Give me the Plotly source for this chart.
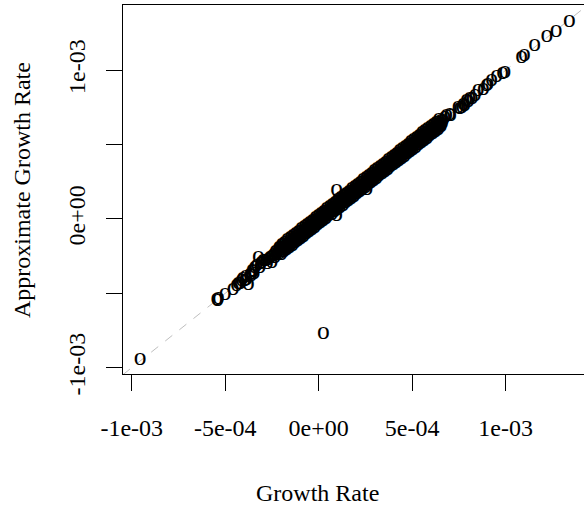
import plotly.graph_objects as go

# ---- data (growth rate vs approximate growth rate) ----
# sparse points, lower-left tail
tail_low_x = [-9.55e-4, -5.45e-4, -5.40e-4, -5.36e-4, -5.01e-4, -4.57e-4, -4.39e-4, -4.30e-4,
              -4.12e-4, -3.95e-4, -3.85e-4, -3.76e-4, -3.67e-4, -3.50e-4, -3.41e-4, -3.30e-4,
              -3.23e-4, -3.05e-4, -2.96e-4, -2.85e-4, -2.70e-4, -2.51e-4, -2.40e-4, -2.30e-4,
              -2.25e-4, -4.20e-4, -4.05e-4, -3.90e-4, -3.60e-4, -3.55e-4, -3.45e-4, -3.15e-4,
              -3.10e-4, -2.75e-4, -2.60e-4, -2.50e-4, -2.35e-4]
tail_low_y = [-9.37e-4, -5.33e-4, -5.40e-4, -5.30e-4, -5.04e-4, -4.66e-4, -4.44e-4, -4.25e-4,
              -4.10e-4, -4.05e-4, -3.99e-4, -4.32e-4, -3.65e-4, -3.45e-4, -3.21e-4, -3.10e-4,
              -2.54e-4, -2.85e-4, -2.76e-4, -2.70e-4, -2.64e-4, -2.87e-4, -2.35e-4, -2.15e-4,
              -2.31e-4, -4.30e-4, -3.95e-4, -3.80e-4, -3.75e-4, -3.40e-4, -3.60e-4, -3.20e-4,
              -2.95e-4, -2.95e-4, -2.50e-4, -2.45e-4, -2.50e-4]

# dense band (overlapping rows of points)
band_mid_x = [-2.20e-4, -2.05e-4, -1.90e-4, -1.75e-4, -1.60e-4, -1.45e-4, -1.30e-4, -1.15e-4,
              -1.00e-4, -0.85e-4, -0.70e-4, -0.55e-4, -0.40e-4, -0.25e-4, -0.10e-4, 0.05e-4,
              0.20e-4, 0.35e-4, 0.50e-4, 0.65e-4, 0.80e-4, 0.95e-4, 1.10e-4, 1.25e-4,
              1.40e-4, 1.55e-4, 1.70e-4, 1.85e-4, 2.00e-4, 2.15e-4, 2.30e-4, 2.45e-4,
              2.60e-4, 2.75e-4, 2.90e-4, 3.05e-4, 3.20e-4, 3.35e-4, 3.50e-4, 3.65e-4,
              3.80e-4, 3.95e-4, 4.10e-4, 4.25e-4, 4.40e-4, 4.55e-4, 4.70e-4, 4.85e-4,
              5.00e-4, 5.15e-4, 5.30e-4, 5.45e-4, 5.60e-4, 5.75e-4, 5.90e-4, 6.05e-4,
              6.20e-4, 6.35e-4, 6.50e-4, 6.65e-4]
band_mid_y = [-2.18e-4, -2.07e-4, -1.88e-4, -1.77e-4, -1.58e-4, -1.47e-4, -1.31e-4, -1.13e-4,
              -1.02e-4, -0.84e-4, -0.71e-4, -0.53e-4, -0.42e-4, -0.24e-4, -0.11e-4, 0.07e-4,
              0.18e-4, 0.36e-4, 0.49e-4, 0.66e-4, 0.79e-4, 0.97e-4, 1.08e-4, 1.26e-4,
              1.39e-4, 1.57e-4, 1.68e-4, 1.86e-4, 1.99e-4, 2.17e-4, 2.28e-4, 2.46e-4,
              2.59e-4, 2.77e-4, 2.88e-4, 3.06e-4, 3.19e-4, 3.37e-4, 3.48e-4, 3.66e-4,
              3.79e-4, 3.97e-4, 4.08e-4, 4.26e-4, 4.39e-4, 4.57e-4, 4.68e-4, 4.86e-4,
              4.99e-4, 5.17e-4, 5.28e-4, 5.46e-4, 5.59e-4, 5.77e-4, 5.88e-4, 6.06e-4,
              6.19e-4, 6.37e-4, 6.48e-4, 6.66e-4]
band_up_x = [-2.12e-4, -1.97e-4, -1.82e-4, -1.67e-4, -1.52e-4, -1.37e-4, -1.22e-4, -1.07e-4,
             -0.92e-4, -0.77e-4, -0.62e-4, -0.47e-4, -0.32e-4, -0.17e-4, -0.02e-4, 0.13e-4,
             0.28e-4, 0.43e-4, 0.58e-4, 0.73e-4, 0.88e-4, 1.03e-4, 1.18e-4, 1.33e-4,
             1.48e-4, 1.63e-4, 1.78e-4, 1.93e-4, 2.08e-4, 2.23e-4, 2.38e-4, 2.53e-4,
             2.68e-4, 2.83e-4, 2.98e-4, 3.13e-4, 3.28e-4, 3.43e-4, 3.58e-4, 3.73e-4,
             3.88e-4, 4.03e-4, 4.18e-4, 4.33e-4, 4.48e-4, 4.63e-4, 4.78e-4, 4.93e-4,
             5.08e-4, 5.23e-4, 5.38e-4, 5.53e-4, 5.68e-4, 5.83e-4, 5.98e-4, 6.13e-4,
             6.28e-4, 6.43e-4]
band_up_y = [-1.84e-4, -1.65e-4, -1.50e-4, -1.35e-4, -1.21e-4, -1.05e-4, -0.90e-4, -0.78e-4,
             -0.60e-4, -0.45e-4, -0.33e-4, -0.15e-4, -0.01e-4, 0.14e-4, 0.30e-4, 0.44e-4,
             0.59e-4, 0.74e-4, 0.90e-4, 1.04e-4, 1.19e-4, 1.35e-4, 1.49e-4, 1.63e-4,
             1.80e-4, 1.94e-4, 2.09e-4, 2.24e-4, 2.40e-4, 2.54e-4, 2.69e-4, 2.85e-4,
             2.99e-4, 3.14e-4, 3.30e-4, 3.44e-4, 3.59e-4, 3.75e-4, 3.89e-4, 4.04e-4,
             4.19e-4, 4.35e-4, 4.49e-4, 4.64e-4, 4.80e-4, 4.94e-4, 5.09e-4, 5.24e-4,
             5.40e-4, 5.53e-4, 5.69e-4, 5.85e-4, 5.99e-4, 6.13e-4, 6.29e-4, 6.44e-4,
             6.58e-4, 6.72e-4]
band_upmid_x = [-2.16e-4, -2.01e-4, -1.86e-4, -1.71e-4, -1.56e-4, -1.41e-4, -1.26e-4, -1.11e-4,
                -0.96e-4, -0.81e-4, -0.66e-4, -0.51e-4, -0.36e-4, -0.21e-4, -0.06e-4, 0.09e-4,
                0.24e-4, 0.39e-4, 0.54e-4, 0.69e-4, 0.84e-4, 0.99e-4, 1.14e-4, 1.29e-4,
                1.44e-4, 1.59e-4, 1.74e-4, 1.89e-4, 2.04e-4, 2.19e-4, 2.34e-4, 2.49e-4,
                2.64e-4, 2.79e-4, 2.94e-4, 3.09e-4, 3.24e-4, 3.39e-4, 3.54e-4, 3.69e-4,
                3.84e-4, 3.99e-4, 4.14e-4, 4.29e-4, 4.44e-4, 4.59e-4, 4.74e-4, 4.89e-4,
                5.04e-4, 5.19e-4, 5.34e-4, 5.49e-4, 5.64e-4, 5.79e-4, 5.94e-4, 6.09e-4,
                6.24e-4, 6.39e-4, 6.54e-4]
band_upmid_y = [-2.00e-4, -1.86e-4, -1.69e-4, -1.56e-4, -1.39e-4, -1.26e-4, -1.09e-4, -0.96e-4,
                -0.79e-4, -0.66e-4, -0.49e-4, -0.36e-4, -0.19e-4, -0.06e-4, 0.11e-4, 0.24e-4,
                0.41e-4, 0.54e-4, 0.71e-4, 0.84e-4, 1.01e-4, 1.14e-4, 1.31e-4, 1.44e-4,
                1.61e-4, 1.74e-4, 1.91e-4, 2.04e-4, 2.21e-4, 2.34e-4, 2.51e-4, 2.64e-4,
                2.81e-4, 2.94e-4, 3.11e-4, 3.24e-4, 3.41e-4, 3.54e-4, 3.71e-4, 3.84e-4,
                4.01e-4, 4.14e-4, 4.31e-4, 4.44e-4, 4.61e-4, 4.74e-4, 4.91e-4, 5.04e-4,
                5.21e-4, 5.34e-4, 5.51e-4, 5.64e-4, 5.81e-4, 5.94e-4, 6.11e-4, 6.24e-4,
                6.41e-4, 6.54e-4, 6.71e-4]
band_lowmid_x = [-2.08e-4, -1.93e-4, -1.78e-4, -1.63e-4, -1.48e-4, -1.33e-4, -1.18e-4, -1.03e-4,
                 -0.88e-4, -0.73e-4, -0.58e-4, -0.43e-4, -0.28e-4, -0.13e-4, 0.02e-4, 0.17e-4,
                 0.32e-4, 0.47e-4, 0.62e-4, 0.77e-4, 0.92e-4, 1.07e-4, 1.22e-4, 1.37e-4,
                 1.52e-4, 1.67e-4, 1.82e-4, 1.97e-4, 2.12e-4, 2.27e-4, 2.42e-4, 2.57e-4,
                 2.72e-4, 2.87e-4, 3.02e-4, 3.17e-4, 3.32e-4, 3.47e-4, 3.62e-4, 3.77e-4,
                 3.92e-4, 4.07e-4, 4.22e-4, 4.37e-4, 4.52e-4, 4.67e-4, 4.82e-4, 4.97e-4,
                 5.12e-4, 5.27e-4, 5.42e-4, 5.57e-4, 5.72e-4, 5.87e-4, 6.02e-4, 6.17e-4,
                 6.32e-4, 6.47e-4, 6.62e-4]
band_lowmid_y = [-2.24e-4, -2.10e-4, -1.93e-4, -1.80e-4, -1.63e-4, -1.50e-4, -1.33e-4, -1.20e-4,
                 -1.03e-4, -0.90e-4, -0.73e-4, -0.60e-4, -0.43e-4, -0.30e-4, -0.13e-4, 0.00e-4,
                 0.17e-4, 0.30e-4, 0.47e-4, 0.60e-4, 0.77e-4, 0.90e-4, 1.07e-4, 1.20e-4,
                 1.37e-4, 1.50e-4, 1.67e-4, 1.80e-4, 1.97e-4, 2.10e-4, 2.27e-4, 2.40e-4,
                 2.57e-4, 2.70e-4, 2.87e-4, 3.00e-4, 3.17e-4, 3.30e-4, 3.47e-4, 3.60e-4,
                 3.77e-4, 3.90e-4, 4.07e-4, 4.20e-4, 4.37e-4, 4.50e-4, 4.67e-4, 4.80e-4,
                 4.97e-4, 5.10e-4, 5.27e-4, 5.40e-4, 5.57e-4, 5.70e-4, 5.87e-4, 6.00e-4,
                 6.17e-4, 6.30e-4, 6.47e-4]
band_low_x = [-2.00e-4, -1.85e-4, -1.70e-4, -1.55e-4, -1.40e-4, -1.25e-4, -1.10e-4, -0.95e-4,
              -0.80e-4, -0.65e-4, -0.50e-4, -0.35e-4, -0.20e-4, -0.05e-4, 0.10e-4, 0.25e-4,
              0.40e-4, 0.55e-4, 0.70e-4, 0.85e-4, 1.00e-4, 1.15e-4, 1.30e-4, 1.45e-4,
              1.60e-4, 1.75e-4, 1.90e-4, 2.05e-4, 2.20e-4, 2.35e-4, 2.50e-4, 2.65e-4,
              2.80e-4, 2.95e-4, 3.10e-4, 3.25e-4, 3.40e-4, 3.55e-4, 3.70e-4, 3.85e-4,
              4.00e-4, 4.15e-4, 4.30e-4, 4.45e-4, 4.60e-4, 4.75e-4, 4.90e-4, 5.05e-4,
              5.20e-4, 5.35e-4, 5.50e-4, 5.65e-4, 5.80e-4, 5.95e-4, 6.10e-4, 6.25e-4,
              6.40e-4, 6.55e-4]
band_low_y = [-2.31e-4, -2.14e-4, -2.01e-4, -1.84e-4, -1.71e-4, -1.54e-4, -1.41e-4, -1.24e-4,
              -1.11e-4, -0.94e-4, -0.81e-4, -0.64e-4, -0.51e-4, -0.34e-4, -0.21e-4, -0.04e-4,
              0.09e-4, 0.26e-4, 0.39e-4, 0.56e-4, 0.69e-4, 0.86e-4, 0.99e-4, 1.16e-4,
              1.29e-4, 1.46e-4, 1.59e-4, 1.76e-4, 1.89e-4, 2.06e-4, 2.19e-4, 2.36e-4,
              2.49e-4, 2.66e-4, 2.79e-4, 2.96e-4, 3.09e-4, 3.26e-4, 3.39e-4, 3.56e-4,
              3.69e-4, 3.86e-4, 3.99e-4, 4.16e-4, 4.29e-4, 4.46e-4, 4.59e-4, 4.76e-4,
              4.89e-4, 5.06e-4, 5.19e-4, 5.36e-4, 5.49e-4, 5.66e-4, 5.79e-4, 5.96e-4,
              6.09e-4, 6.26e-4]

# off-diagonal outliers
outlier_x = [0.25e-4, 0.96e-4, 0.96e-4, 2.57e-4]
outlier_y = [-7.65e-4, 1.95e-4, 0.27e-4, 2.06e-4]

# sparse points, upper-right tail
tail_high_x = [6.75e-4, 6.84e-4, 7.02e-4, 7.05e-4, 7.45e-4, 7.55e-4, 7.65e-4, 7.73e-4,
               7.80e-4, 7.91e-4, 8.00e-4, 8.09e-4, 8.20e-4, 8.36e-4, 8.53e-4, 8.80e-4,
               8.98e-4, 9.05e-4, 9.25e-4, 9.52e-4, 9.84e-4, 9.96e-4, 10.85e-4, 11.00e-4,
               11.55e-4, 12.20e-4, 12.70e-4, 13.40e-4]
tail_high_y = [6.88e-4, 6.99e-4, 7.11e-4, 7.05e-4, 7.55e-4, 7.50e-4, 7.55e-4, 7.78e-4,
               7.70e-4, 8.00e-4, 7.95e-4, 8.18e-4, 8.15e-4, 8.34e-4, 8.68e-4, 8.79e-4,
               9.01e-4, 9.12e-4, 9.35e-4, 9.62e-4, 9.86e-4, 9.91e-4, 10.95e-4, 11.05e-4,
               11.75e-4, 12.35e-4, 12.70e-4, 13.35e-4]

# axes
x_tick_vals = [-1e-3, -5e-4, 0, 5e-4, 1e-3]
x_tick_text = ["-1e-03", "-5e-04", "0e+00", "5e-04", "1e-03"]
y_tick_vals = [-1e-3, -5e-4, 0, 5e-4, 1e-3]
y_tick_text = ["-1e-03", "", "0e+00", "", "1e-03"]
x_range = [-10.465e-4, 14.187e-4]
y_range = [-10.424e-4, 14.39e-4]
x_title = "Growth Rate"
y_title = "Approximate Growth Rate"

FONT = "Liberation Serif, Times New Roman, serif"

xs = (tail_low_x + band_mid_x + band_up_x + band_upmid_x + band_lowmid_x + band_low_x
      + outlier_x + tail_high_x)
ys = (tail_low_y + band_mid_y + band_up_y + band_upmid_y + band_lowmid_y + band_low_y
      + outlier_y + tail_high_y)

fig = go.Figure()
# reference line y = x
fig.add_trace(go.Scatter(
    x=x_range, y=x_range, mode="lines",
    line=dict(color="#bebebe", width=1, dash="dash"),
    hoverinfo="skip", showlegend=False))
fig.add_trace(go.Scatter(
    x=xs, y=ys, mode="text", text=["o"] * len(xs),
    textposition="middle center",
    textfont=dict(family=FONT, size=25.5, color="black"),
    hoverinfo="skip", showlegend=False))

fig.update_layout(
    width=584, height=508,
    margin=dict(l=123, r=0, t=5, b=134),
    paper_bgcolor="white", plot_bgcolor="white",
    font=dict(family=FONT, size=24, color="black"),
    showlegend=False,
    xaxis=dict(range=x_range, showgrid=False, zeroline=False,
               showline=True, linecolor="black", linewidth=1, mirror=True,
               ticks="outside", ticklen=16, tickwidth=1, tickcolor="black",
               tickvals=x_tick_vals, ticktext=x_tick_text,
               tickfont=dict(family=FONT, size=24, color="black"),
               ticklabelstandoff=16),
    yaxis=dict(range=y_range, showgrid=False, zeroline=False,
               showline=True, linecolor="black", linewidth=1,
               ticks="outside", ticklen=16, tickwidth=1, tickcolor="black",
               tickvals=y_tick_vals, ticktext=y_tick_text, tickangle=-90,
               tickfont=dict(family=FONT, size=24, color="black"),
               ticklabelstandoff=11),
    annotations=[
        dict(text=x_title, xref="paper", yref="paper", x=0.4219, y=-0.3225,
             xanchor="center", yanchor="middle", showarrow=False,
             font=dict(family=FONT, size=24, color="black")),
        dict(text=y_title, xref="paper", yref="paper", x=-0.219, y=0.4986,
             xanchor="center", yanchor="middle", textangle=-90, showarrow=False,
             font=dict(family=FONT, size=24, color="black")),
    ],
)

fig.write_html("out.html", config={"displayModeBar": False},
               post_script="document.body.style.margin='0';document.body.style.overflow='hidden';")
